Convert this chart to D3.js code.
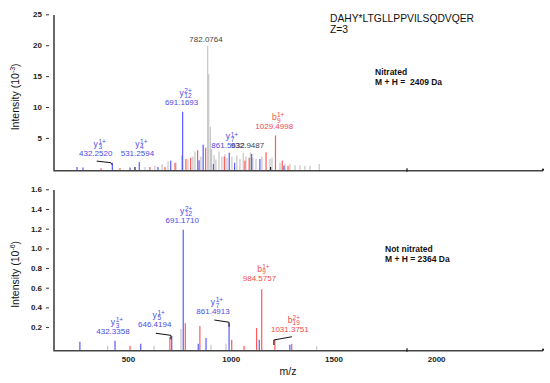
<!DOCTYPE html>
<html><head><meta charset="utf-8">
<script src="https://cdn.jsdelivr.net/npm/d3@7"></script>
<style>body{margin:0;background:#fff} text{font-family:"Liberation Sans",Arial,sans-serif}</style>
</head><body><svg id="c" width="550" height="383"></svg>
<script>
// ---------- data ----------
const mzDomain = [140, 2520];
const xTicks = [500, 1000, 1500, 2000];
const topYTicks = [5, 10, 15, 20, 25];
const botYTicks = [0.2, 0.4, 0.6, 0.8, 1.0, 1.2, 1.4, 1.6];
const axisMarksMz = [1858];

// Nitrated (top) peaks
const topGrayMz  = [583, 631, 666, 695, 734, 761, 792, 816, 826, 855, 888, 893, 901, 907, 919, 928, 943, 957, 972, 982, 1006, 1030, 1045, 1061, 1074, 1096, 1108, 1123, 1152, 1191, 1201, 1240, 1264, 1288, 1313, 1337, 1361, 1386, 1431];
const topGrayInt = [0.3, 0.5, 0.8, 1.2, 1.0, 2.2, 1.5, 2.0, 2.8, 2.0, 19.9, 15.3, 6.8, 3.2, 2.2, 1.5, 2.8, 2.0, 2.4, 1.8, 2.0, 2.2, 1.6, 2.6, 2.0, 2.6, 1.8, 1.6, 2.0, 1.6, 1.8, 1.0, 0.8, 0.8, 0.6, 0.6, 0.5, 0.5, 0.8];
const topRedMz   = [369, 461, 607, 680, 729, 782, 805, 839, 878, 969, 1069, 1090, 1172, 1218, 1251, 1279];
const topRedInt  = [0.1, 0.15, 0.3, 0.3, 1.0, 1.6, 1.8, 3.0, 3.4, 2.0, 1.3, 1.8, 2.7, 5.4, 1.3, 0.5];
const topBlueMz  = [252, 281, 424, 510, 555, 646, 708, 766, 846, 866, 916, 993, 1019, 1102, 1142, 1259];
const topBlueInt = [0.3, 0.2, 1.0, 0.2, 1.1, 0.3, 1.3, 9.25, 1.4, 3.9, 0.8, 2.6, 1.0, 2.4, 1.6, 0.5];
const topBlackMz  = [534, 1194];
const topBlackInt = [0.3, 0.3];

// Not nitrated (bottom) peaks
const botGrayMz  = [401, 627, 758, 904, 977, 1418];
const botGrayInt = [0.01, 0.01, 0.18, 0.02, 0.03, 0.005];
const botRedMz   = [510, 704, 779, 850, 1005, 1065, 1126, 1151, 1215, 1297];
const botRedInt  = [0.01, 0.10, 0.24, 0.21, 0.07, 0.01, 0.19, 0.585, 0.07, 0.03];
const botBlueMz  = [266, 437, 562, 713, 769, 842, 880, 992, 1139, 1288];
const botBlueInt = [0.05, 0.06, 0.03, 0.11, 1.19, 0.03, 0.09, 0.24, 0.07, 0.02];

// Annotations (anchored in data units: m/z, intensity)
const topLabels = [
  {kind:'y', ion:'y', sup:'1+', sub:'3',  text:'432.2520',  mz:343,  at:2.08},
  {kind:'y', ion:'y', sup:'1+', sub:'4',  text:'531.2594',  mz:546,  at:2.08},
  {kind:'y', ion:'y', sup:'2+', sub:'12', text:'691.1693',  mz:761,  at:10.33},
  {kind:'y', ion:'y', sup:'1+', sub:'7',  text:'861.5632',  mz:987,  at:3.32},
  {kind:'n', ion:'',  sup:'',   sub:'',   text:'932.9487',  mz:1082, at:3.32},
  {kind:'b', ion:'b', sup:'1+', sub:'9',  text:'1029.4998', mz:1212, at:6.4},
  {kind:'n', ion:'',  sup:'',   sub:'',   text:'782.0764',  mz:880,  at:20.47}
];
const botLabels = [
  {kind:'y', ion:'y', sup:'1+', sub:'3',  text:'432.3358',  mz:427,  at:0.127},
  {kind:'y', ion:'y', sup:'1+', sub:'5',  text:'646.4194',  mz:630,  at:0.204},
  {kind:'y', ion:'y', sup:'2+', sub:'12', text:'691.1710',  mz:764,  at:1.261},
  {kind:'y', ion:'y', sup:'1+', sub:'7',  text:'861.4913',  mz:914,  at:0.33},
  {kind:'b', ion:'b', sup:'1+', sub:'9',  text:'984.5757',  mz:1140, at:0.671},
  {kind:'b', ion:'b', sup:'2+', sub:'19', text:'1031.3751', mz:1288, at:0.153}
];
const topConnectors = [ [[348,1.25],[416,1.0],[423,0.65]] ];
const botConnectors = [
  [[636,0.137],[709,0.116],[709,0.076]],
  [[920,0.272],[992,0.249],[992,0.204]],
  [[1210,0.018],[1210,0.069],[1298,0.102]]
];

// ---------- drawing ----------
const svg = d3.select('#c');
const BAR = {n:'#c6c6c6', b:'#ff5a5a', y:'#5a5aff', k:'#222'};
const TXT = {n:'#444', b:'#f04a4a', y:'#4a4ae8'};
const x = d3.scaleLinear().domain(mzDomain).range([54, 543]);
const yTop = d3.scaleLinear().domain([-0.3, 25]).range([170.7, 14.3]);
const yBot = d3.scaleLinear().domain([-0.04, 1.6]).range([350.7, 189.3]);

function zip(m, v, k){ return m.map((d,i)=>({mz:d, v:v[i], k:k})); }

function panel(y, peaks, labels, connectors, ticks, fmt, yTopPx, title) {
  const g = svg.append('g');
  const base = y.range()[0];
  g.selectAll('line.pk').data(peaks).join('line')
    .attr('x1', d=>x(d.mz)).attr('x2', d=>x(d.mz))
    .attr('y1', base).attr('y2', d=>y(d.v))
    .attr('stroke', d=>BAR[d.k]).attr('stroke-width', 1.2);
  g.selectAll('path.cn').data(connectors).join('path')
    .attr('d', d=>d3.line().x(p=>x(p[0])).y(p=>y(p[1]))(d))
    .attr('fill','none').attr('stroke','#111').attr('stroke-width',1);
  labels.forEach(L=>{
    const cx = x(L.mz), B = y(L.at), c = TXT[L.kind];
    g.append('text').attr('x',cx).attr('y',B).attr('text-anchor','middle')
      .attr('font-size',8).attr('fill',c).text(L.text);
    if (L.ion) {
      const t = g.append('text').attr('fill',c);
      t.append('tspan').attr('x',cx-2.2).attr('y',B-9).attr('font-size',8.5).text(L.ion);
      t.append('tspan').attr('x',cx+2.7).attr('y',B-11.8).attr('font-size',6.5).text(L.sup);
      t.append('tspan').attr('x',cx+2.7).attr('y',B-6.6).attr('font-size',6.5).text(L.sub);
    }
  });
  const ya = g.append('g').attr('transform','translate(49,0)')
    .call(d3.axisLeft(y).tickValues(ticks).tickSize(3).tickPadding(4).tickFormat(fmt));
  ya.select('.domain').remove();
  ya.selectAll('text').attr('font-size',8).attr('font-weight','bold').attr('fill','#222')
    .style('font-family','"Liberation Sans",Arial,sans-serif');
  ya.selectAll('line').attr('stroke','#333');
  g.append('path').attr('d',`M54,${yTopPx}V${base}H543`)
    .attr('fill','none').attr('stroke','#444').attr('stroke-width',1.6);
  g.selectAll('line.mk').data(axisMarksMz).join('line')
    .attr('x1',d=>x(d)).attr('x2',d=>x(d)).attr('y1',base-2.5).attr('y2',base+1)
    .attr('stroke','#222').attr('stroke-width',1.3);
  g.append('rect').attr('x',x(mzDomain[1])-1).attr('y',base-2).attr('width',2).attr('height',2).attr('fill','#222');
  const t = g.append('text').attr('transform',`translate(19,${(yTopPx+base)/2+4}) rotate(-90)`)
    .attr('text-anchor','middle').attr('font-size',10.5).attr('fill','#111');
  t.append('tspan').text('Intensity (10');
  t.append('tspan').attr('font-size',7).attr('dy',-4).text(title);
  t.append('tspan').attr('dy',4).text(')');
  return g;
}

const topPeaks = [].concat(zip(topGrayMz,topGrayInt,'n'), zip(topRedMz,topRedInt,'b'),
  zip(topBlueMz,topBlueInt,'y'), zip(topBlackMz,topBlackInt,'k'));
const botPeaks = [].concat(zip(botGrayMz,botGrayInt,'n'), zip(botRedMz,botRedInt,'b'),
  zip(botBlueMz,botBlueInt,'y'));

panel(yTop, topPeaks, topLabels, topConnectors, topYTicks, d3.format('d'), 15, '-3');
panel(yBot, botPeaks, botLabels, botConnectors, botYTicks, d3.format('.1f'), 190, '-6');

const xa = svg.append('g').attr('transform','translate(0,350.7)')
  .call(d3.axisBottom(x).tickValues(xTicks).tickSize(0).tickPadding(5.5).tickFormat(d3.format('d')));
xa.select('.domain').remove();
xa.selectAll('text').attr('font-size',8).attr('font-weight','bold').attr('fill','#222')
  .style('font-family','"Liberation Sans",Arial,sans-serif');

svg.append('text').attr('x',288).attr('y',375).attr('text-anchor','middle')
  .attr('font-size',10.5).attr('fill','#111').text('m/z');

function txt(xp, yp, s, size, bold){
  svg.append('text').attr('x',xp).attr('y',yp).attr('font-size',size)
    .attr('font-weight',bold?'bold':'normal').attr('fill','#111')
    .style('white-space','pre').text(s);
}
txt(330, 21.7, 'DAHY*LTGLLPPVILSQDVQER', 10.3, false);
txt(330, 33.3, 'Z=3', 10.3, false);
txt(375, 75, 'Nitrated', 8.5, true);
txt(375, 85, 'M + H =  2409 Da', 8.5, true);
txt(385, 251.7, 'Not nitrated', 8.5, true);
txt(385, 261.7, 'M + H = 2364 Da', 8.5, true);
</script></body></html>
